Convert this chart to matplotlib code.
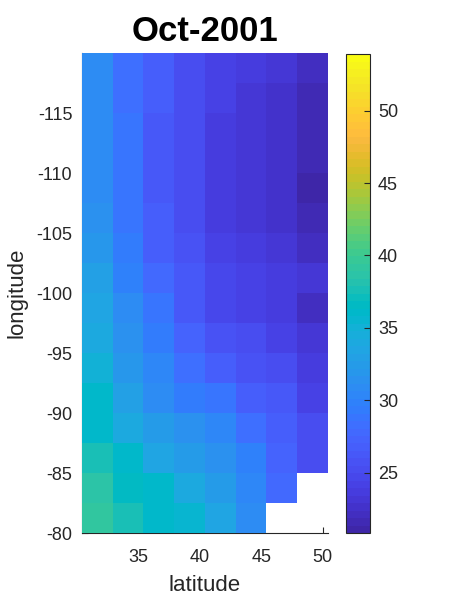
import numpy as np
import matplotlib
matplotlib.use("Agg")
import matplotlib.pyplot as plt
from matplotlib.colors import ListedColormap

# parula (64) colormap
parula_data = [
 [0.2422,0.1504,0.6603],[0.2504,0.1650,0.7076],[0.2578,0.1818,0.7511],[0.2647,0.1978,0.7952],
 [0.2706,0.2147,0.8364],[0.2751,0.2342,0.8710],[0.2783,0.2559,0.8991],[0.2803,0.2782,0.9221],
 [0.2813,0.3006,0.9414],[0.2810,0.3228,0.9579],[0.2795,0.3447,0.9717],[0.2760,0.3667,0.9829],
 [0.2699,0.3892,0.9906],[0.2602,0.4123,0.9952],[0.2440,0.4358,0.9988],[0.2206,0.4603,0.9973],
 [0.1963,0.4847,0.9892],[0.1834,0.5074,0.9798],[0.1786,0.5289,0.9682],[0.1764,0.5499,0.9520],
 [0.1687,0.5703,0.9359],[0.1540,0.5902,0.9218],[0.1460,0.6091,0.9079],[0.1380,0.6276,0.8973],
 [0.1248,0.6459,0.8883],[0.1113,0.6635,0.8763],[0.0952,0.6798,0.8598],[0.0689,0.6948,0.8394],
 [0.0297,0.7082,0.8163],[0.0036,0.7203,0.7917],[0.0067,0.7312,0.7660],[0.0433,0.7411,0.7394],
 [0.0964,0.7500,0.7120],[0.1408,0.7584,0.6842],[0.1717,0.7670,0.6554],[0.1938,0.7758,0.6251],
 [0.2161,0.7843,0.5923],[0.2470,0.7918,0.5567],[0.2906,0.7973,0.5188],[0.3406,0.8008,0.4789],
 [0.3909,0.8029,0.4354],[0.4456,0.8024,0.3909],[0.5044,0.7993,0.3480],[0.5616,0.7942,0.3045],
 [0.6174,0.7876,0.2612],[0.6720,0.7793,0.2227],[0.7242,0.7698,0.1910],[0.7738,0.7598,0.1646],
 [0.8203,0.7498,0.1535],[0.8634,0.7406,0.1596],[0.9035,0.7330,0.1774],[0.9393,0.7288,0.2100],
 [0.9728,0.7298,0.2394],[0.9956,0.7434,0.2371],[0.9970,0.7659,0.2199],[0.9952,0.7893,0.2028],
 [0.9892,0.8136,0.1885],[0.9786,0.8386,0.1766],[0.9676,0.8639,0.1643],[0.9610,0.8890,0.1537],
 [0.9597,0.9135,0.1423],[0.9628,0.9373,0.1265],[0.9691,0.9606,0.1064],[0.9769,0.9839,0.0805]]
parula = ListedColormap(parula_data, name="parula")

title = "Oct-2001"
lat_edges = [30.4, 32.9, 35.4, 37.9, 40.4, 42.9, 45.4, 47.9, 50.4]
lon_edges = [-120.0, -117.5, -115.0, -112.5, -110.0, -107.5, -105.0, -102.5, -100.0,
             -97.5, -95.0, -92.5, -90.0, -87.5, -85.0, -82.5, -80.0]
xticks = [35, 40, 45, 50]
yticks = [-115, -110, -105, -100, -95, -90, -85, -80]
cticks = [25, 30, 35, 40, 45, 50]
clim = [20.8, 53.9]
nan = np.nan
# rows: longitude from -120 (top) to -80 (bottom); columns: latitude
values = [
 [30.7, 28.5, 26.5, 25.4, 24.3, 23.8, 23.0, 22.2],
 [30.8, 28.5, 26.5, 25.3, 24.1, 23.3, 22.8, 21.8],
 [30.8, 28.6, 26.4, 25.1, 23.5, 23.1, 22.6, 21.7],
 [30.9, 28.6, 26.4, 25.1, 23.4, 23.0, 22.5, 21.4],
 [31.0, 28.7, 26.4, 25.1, 23.4, 23.0, 22.5, 21.3],
 [31.2, 28.7, 26.5, 25.2, 23.6, 23.0, 22.6, 21.6],
 [32.1, 29.5, 26.8, 25.5, 24.3, 23.9, 23.0, 22.2],
 [32.9, 30.0, 27.6, 26.1, 24.7, 24.3, 23.9, 22.9],
 [33.4, 30.8, 28.9, 26.4, 24.7, 24.2, 23.8, 22.1],
 [34.2, 31.6, 29.5, 27.1, 25.8, 25.0, 24.2, 23.2],
 [35.0, 32.1, 30.3, 28.4, 26.8, 25.8, 25.0, 23.4],
 [35.8, 33.2, 31.0, 29.5, 28.7, 26.8, 26.1, 24.2],
 [36.3, 34.2, 32.6, 31.6, 30.5, 28.4, 26.8, 25.3],
 [37.4, 36.0, 33.7, 32.4, 31.6, 29.7, 27.4, 25.3],
 [38.7, 36.8, 36.0, 34.2, 32.4, 30.5, 27.9, nan],
 [39.0, 37.6, 36.3, 35.3, 33.4, 30.8, nan, nan],
]

plt.rcParams['font.family'] = ['Liberation Sans', 'DejaVu Sans']
plt.rcParams['axes.unicode_minus'] = False
txt = '#262626'

fig = plt.figure(figsize=(4.5, 6), dpi=100)
ax = fig.add_axes([82/450, 1 - 533.3/600, 245.7/450, 480/600])
data = np.ma.masked_invalid(np.array(values))
mesh = ax.pcolormesh(lat_edges, lon_edges, data, cmap=parula,
                     vmin=clim[0], vmax=clim[1], shading='flat', zorder=1)
ax.set_xlim(lat_edges[0], lat_edges[-1])
ax.set_ylim(lon_edges[-1], lon_edges[0])
ax.set_xticks(xticks)
ax.set_yticks(yticks)
ax.tick_params(direction='in', length=4, width=0.8, colors=txt, labelsize=13,
               top=False, right=False)
ax.tick_params(axis='x', pad=11)
ax.tick_params(axis='y', pad=7)
for s in ['top', 'right']:
    ax.spines[s].set_visible(False)
for s in ['left', 'bottom']:
    ax.spines[s].set_color(txt)
    ax.spines[s].set_linewidth(0.8)
    ax.spines[s].set_zorder(0.5)
ax.set_axisbelow(True)
ax.set_xlabel('latitude', fontsize=16, color=txt, labelpad=7)
ax.set_ylabel('longitude', fontsize=16, color=txt, labelpad=6)
ax.set_title(title, fontsize=25, fontweight='bold', color='black', pad=9)

cax = fig.add_axes([346.3/450, 1 - 533.3/600, 23.4/450, 479/600])
cb = fig.colorbar(mesh, cax=cax)
cb.set_ticks(cticks)
cb.outline.set_linewidth(0.8)
cb.outline.set_edgecolor(txt)
cax.tick_params(direction='in', length=4, width=0.8, colors=txt, labelsize=13, pad=6)

fig.savefig('out.png', dpi=100)
